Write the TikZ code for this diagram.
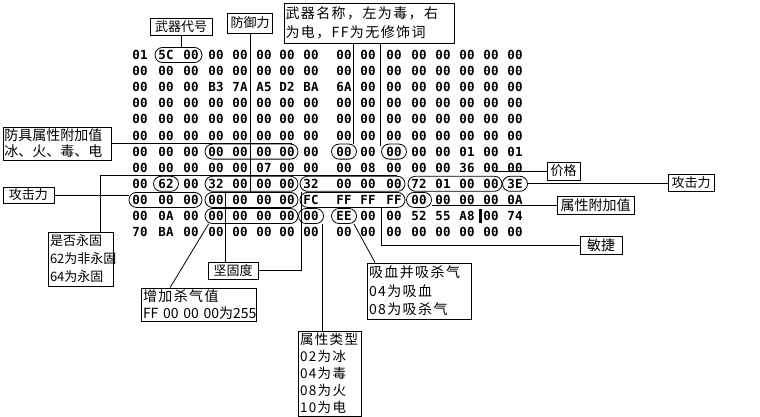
\documentclass[tikz,border=0pt]{standalone}
\usepackage{fontspec}
\newfontfamily\cjk{Noto Sans CJK SC}
\newfontfamily\cjkw{Noto Sans CJK SC}[LetterSpace=10]
\newfontfamily\hexfont{DejaVu Sans Mono}
\usetikzlibrary{calc}
\begin{document}
\begin{tikzpicture}[x=1pt,y=-1pt,
  lbl/.style={draw, line width=0.8pt, inner sep=1.5pt, font=\cjk\fontsize{13}{17}\selectfont, align=left},
  wide/.style={font=\cjkw\fontsize{14}{#1}\selectfont},
  hx/.style={font=\hexfont\bfseries\fontsize{12.5}{12.5}\selectfont, inner sep=0pt},
  stad/.style={draw, line width=0.8pt, rounded corners=7.5pt, minimum height=15pt, inner sep=0pt},
  con/.style={line width=0.8pt}]
\fill[white] (0,0) rectangle (760,417);
\useasboundingbox (0,0) rectangle (760,417);
\def\colx{{140,166,191,216,240,264,287,311,344,368,394,419,443,467,491,515}}
\foreach \r/\row in {
 0/{01,5C,00,00,00,00,00,00,00,00,00,00,00,00,00,00},
 1/{00,00,00,00,00,00,00,00,00,00,00,00,00,00,00,00},
 2/{00,00,00,B3,7A,A5,D2,BA,6A,00,00,00,00,00,00,00},
 3/{00,00,00,00,00,00,00,00,00,00,00,00,00,00,00,00},
 4/{00,00,00,00,00,00,00,00,00,00,00,00,00,00,00,00},
 5/{00,00,00,00,00,00,00,00,00,00,00,00,00,00,00,00},
 6/{00,00,00,00,00,00,00,00,00,00,00,00,00,01,00,01},
 7/{00,00,00,00,00,07,00,00,00,08,00,00,00,36,00,00},
 8/{00,62,00,32,00,00,00,32,00,00,00,72,01,00,00,3E},
 9/{00,00,00,00,00,00,00,FC,FF,FF,FF,00,00,00,00,0A},
 10/{00,0A,00,00,00,00,00,00,EE,00,00,52,55,A8,00,74},
 11/{70,BA,00,00,00,00,00,00,00,00,00,00,00,00,00,00}}{
  \foreach \v [count=\c from 0] in \row {
    \pgfmathsetmacro\xx{\colx[\c]}
    \node[hx] (h-\r-\c) at (\xx, 55+16.1*\r) {\v};
  }
}
% stadium outlines
\node[stad, minimum width=47pt] (e01) at (178.5,55) {};
\node[stad, minimum width=93pt] (e63) at (251.5,151.6) {};
\node[stad, minimum width=25pt] (e68) at (344,151.6) {};
\node[stad, minimum width=25pt] (e6A) at (394,151.6) {};
\node[stad, minimum width=25pt] (e81) at (166,183.8) {};
\node[stad, minimum width=93pt] (e83) at (251.5,183.8) {};
\node[stad, minimum width=105pt] (e87) at (352.5,183.8) {};
\node[stad, minimum width=94pt] (e8B) at (455,183.8) {};
\node[stad, minimum width=25pt] (e8F) at (515,183.8) {};
\node[stad, minimum width=73pt] (e90) at (165.5,199.9) {};
\node[stad, minimum width=93pt] (e93) at (251.5,199.9) {};
\node[stad, minimum width=105pt] (e97) at (352.5,199.9) {};
\node[stad, minimum width=25pt] (e9B) at (419,199.9) {};
\node[stad, minimum width=93pt] (e103) at (251.5,216) {};
\node[stad, minimum width=25pt] (e107) at (311,216) {};
\node[stad, minimum width=25pt] (e108) at (344,216) {};
% cursor mark
\draw[line width=2.5pt] ($(h-10-14.west)+(-3,-7)$) -- ($(h-10-14.west)+(-3,7)$);
% labels
\node[lbl, minimum width=62pt, minimum height=17pt] (wq) at (181,26.5) {武器代号};
\node[lbl, minimum width=45pt, minimum height=20pt] (fy) at (250,23) {防御力};
\node[lbl, text width=167pt, minimum height=40pt, font=\cjkw\fontsize{14}{19}\selectfont] (mc) at (369,23) {武器名称，左为毒，右\\为电，FF为无修饰词};
\node[lbl, text width=105pt, minimum height=33pt, font=\cjk\fontsize{14}{16}\selectfont] (fj) at (57,143.5) {防具属性附加值\\冰、火、毒、电};
\node[lbl, minimum width=33pt, minimum height=18pt] (jg) at (563.5,171) {价格};
\node[lbl, minimum width=46pt, minimum height=17pt] (gj2) at (691,183) {攻击力};
\node[lbl, minimum width=51pt, minimum height=16pt] (gj1) at (28.5,195) {攻击力};
\node[lbl, minimum width=77pt, minimum height=18pt, font=\cjk\fontsize{14}{17}\selectfont] (sx) at (595.5,205) {属性附加值};
\node[lbl, minimum width=42pt, minimum height=18pt, font=\cjk\fontsize{14}{17}\selectfont] (mj) at (601,245) {敏捷};
\node[lbl, text width=62pt, minimum height=54pt, font=\cjk\fontsize{13}{18}\selectfont] (sf) at (81,259) {是否永固\\62为非永固\\64为永固};
\node[lbl, minimum width=50pt, minimum height=17pt] (jgd) at (233,270.5) {坚固度};
\node[lbl, text width=112pt, minimum height=33pt, wide=16.5] (zj) at (199,304.5) {增加杀气值\\\mbox{\cjk FF 00 00 00为255}};
\node[lbl, text width=101pt, minimum height=56pt, wide=18.5] (xx) at (419.5,291) {吸血并吸杀气\\04为吸血\\08为吸杀气};
\node[lbl, text width=60pt, minimum height=85pt, font=\cjkw\fontsize{13.5}{17}\selectfont] (lx) at (330,373.5) {属性类型\\02为冰\\04为毒\\08为火\\10为电};
% helper coordinates
\coordinate (mcA) at ($(e68.north)+(9,0)$);
\coordinate (mcB) at (380,146);
\coordinate (fjE) at ($(e63.north east)+(-6,0)$);
\coordinate (jgE) at ($(e8B.north east)+(-6,0)$);
\coordinate (mjT) at (381,208);
\coordinate (sfA) at ($(sf.north)+(19,0)$);
\coordinate (sfE) at ($(e87.north east)+(-8,-0.8)$);
\coordinate (jgdA) at ($(jgd.north)+(-8,0)$);
\coordinate (jgdB) at ($(e87.south west)+(2,0)$);
\coordinate (zjA) at ($(zj.north west)+(29,0)$);
\coordinate (zjB) at ($(e103.south west)+(4,0)$);
\coordinate (xxA) at ($(xx.north west)+(8,0)$);
\coordinate (xxB) at ($(e108.south east)+(-3,0)$);
\coordinate (lxB) at ($(e107.south east)+(-1.5,0)$);
% connectors
\draw[con] (wq.south) -- (wq.south |- e01.north);
\draw[con] (fy.south) -- (fy.south |- e83.south);
\draw[con] (mcA |- mc.south) -- (mcA);
\draw[con] (mcB |- mc.south) -- (mcB);
\draw[con] (fj.east) -- (fj.east -| fjE);
\draw[con] (jg.west) -- (jg.west -| jgE);
\draw[con] (gj2.west) -- (gj2.west -| e8F.east);
\draw[con] (gj1.east) -- (gj1.east -| e90.west);
\draw[con] (sx.west) -- (sx.west -| e9B.east);
\draw[con] (mj.west) -| (mjT);
\draw[con] (sfA) |- (sfE);
\draw[con] (jgdA) -- (jgdA |- e83.south);
\draw[con] (jgd.east) -| (jgdB);
\draw[con] (zjA) -- (zjB);
\draw[con] (xxA) -- (xxB);
\draw[con] (lxB |- lx.north) -- (lxB);
\end{tikzpicture}
\end{document}
